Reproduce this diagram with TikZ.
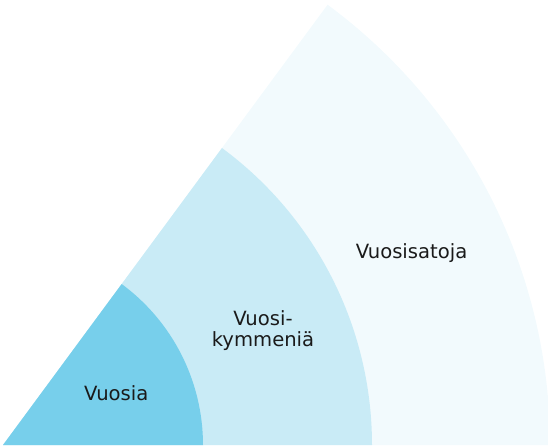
\documentclass[tikz,border=0pt]{standalone}
\usepackage{fontspec}
\setmainfont{DejaVu Sans}
\definecolor{innerc}{HTML}{77CFEB}
\definecolor{midc}{HTML}{C9EBF6}
\definecolor{outerc}{HTML}{F2FAFD}
\definecolor{txt}{HTML}{1A1A1A}
\begin{document}
\begin{tikzpicture}[x=1pt,y=1pt,
  lbl/.style={inner sep=0pt, text=txt, font=\fontsize{19.6}{21.3}\selectfont, anchor=base, align=center}]
\useasboundingbox (0,0) rectangle (548,445);
\clip (0,0) rectangle (548,445);
\coordinate (O) at (3,0);
\fill[outerc] (O) -- ++(0:547) arc[start angle=0, end angle=53.6, radius=547] -- cycle;
\fill[midc] (O) -- ++(0:369) arc[start angle=0, end angle=53.6, radius=369] -- cycle;
\fill[innerc] (O) -- ++(0:200) arc[start angle=0, end angle=53.6, radius=200] -- cycle;
\node[lbl] (l1) at (116.3,45) {Vuosia};
\node[lbl] (l2) at (263,98.4) {Vuosi-\\kymmeniä};
\node[lbl] (l3) at (411.5,187) {Vuosisatoja};
\end{tikzpicture}
\end{document}
